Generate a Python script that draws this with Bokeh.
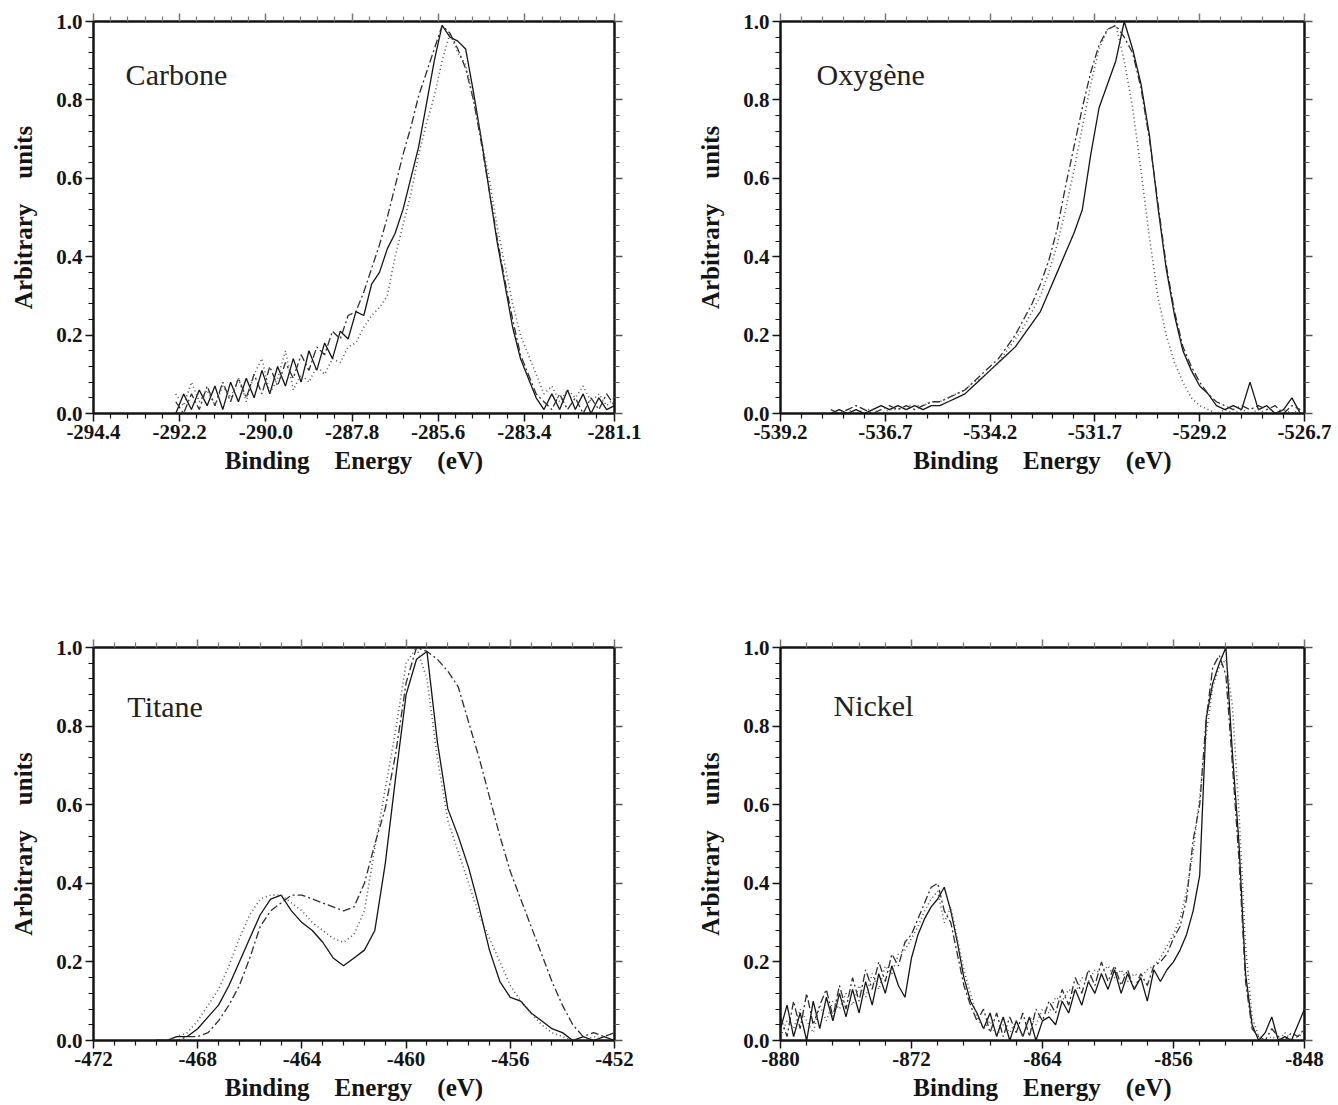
from bokeh.plotting import figure
from bokeh.layouts import column, row
from bokeh.models import (Range1d, FixedTicker, LinearAxis, PrintfTickFormatter, Label,
                          CustomJSTickFormatter)
from bokeh.embed import file_html
from bokeh.resources import INLINE

# ---------------- data ----------------
y_ticks = [0.0, 0.2, 0.4, 0.6, 0.8, 1.0]

carbone_ticks = [-294.4, -292.2, -290.0, -287.8, -285.6, -283.4, -281.1]
carbone_x = [-292.3, -292.1, -291.9, -291.7, -291.5, -291.3, -291.1, -290.9, -290.7, -290.5,
             -290.3, -290.1, -289.9, -289.7, -289.5, -289.3, -289.1, -288.9, -288.7, -288.5,
             -288.3, -288.1, -287.9, -287.7, -287.5, -287.3, -287.1, -286.9, -286.7, -286.5,
             -286.3, -286.1, -285.9, -285.7, -285.5, -285.3, -285.1, -284.9, -284.7, -284.5,
             -284.3, -284.1, -283.9, -283.7, -283.5, -283.3, -283.1, -282.9, -282.7, -282.5,
             -282.3, -282.1, -281.9, -281.7, -281.5, -281.3, -281.1]
carbone_solid = [0.00, 0.05, 0.01, 0.06, 0.02, 0.07, 0.01, 0.08, 0.03, 0.09,
                 0.04, 0.11, 0.05, 0.12, 0.07, 0.14, 0.08, 0.16, 0.11, 0.18,
                 0.14, 0.21, 0.19, 0.26, 0.25, 0.33, 0.36, 0.42, 0.46, 0.52,
                 0.60, 0.68, 0.79, 0.90, 0.99, 0.96, 0.95, 0.93, 0.82, 0.70,
                 0.57, 0.44, 0.33, 0.22, 0.14, 0.09, 0.04, 0.01, 0.05, 0.01,
                 0.06, 0.01, 0.05, 0.00, 0.04, 0.01, 0.02]
carbone_dashdot = [0.03, 0.00, 0.05, 0.01, 0.07, 0.02, 0.08, 0.03, 0.09, 0.04,
                   0.10, 0.05, 0.12, 0.07, 0.13, 0.09, 0.15, 0.11, 0.17, 0.15,
                   0.21, 0.19, 0.25, 0.26, 0.31, 0.37, 0.43, 0.50, 0.58, 0.66,
                   0.73, 0.81, 0.87, 0.93, 0.99, 0.97, 0.93, 0.88, 0.80, 0.69,
                   0.57, 0.45, 0.34, 0.24, 0.15, 0.10, 0.05, 0.03, 0.01, 0.05,
                   0.01, 0.04, 0.00, 0.04, 0.01, 0.05, 0.02]
carbone_dotted = [0.05, 0.02, 0.08, 0.03, 0.06, 0.02, 0.07, 0.04, 0.09, 0.03,
                  0.10, 0.14, 0.05, 0.09, 0.16, 0.06, 0.10, 0.08, 0.12, 0.10,
                  0.14, 0.13, 0.17, 0.18, 0.22, 0.25, 0.27, 0.30, 0.40, 0.48,
                  0.56, 0.66, 0.74, 0.81, 0.90, 0.97, 0.92, 0.89, 0.80, 0.70,
                  0.60, 0.48, 0.38, 0.28, 0.20, 0.15, 0.10, 0.05, 0.07, 0.03,
                  0.06, 0.04, 0.07, 0.03, 0.05, 0.02, 0.04]

oxygene_ticks = [-539.2, -536.7, -534.2, -531.7, -529.2, -526.7]
oxygene_x = [-538.0, -537.8, -537.6, -537.4, -537.2, -537.0, -536.8, -536.6, -536.4, -536.2,
             -536.0, -535.8, -535.6, -535.4, -535.2, -535.0, -534.8, -534.6, -534.4, -534.2,
             -534.0, -533.8, -533.6, -533.4, -533.2, -533.0, -532.8, -532.6, -532.4, -532.2,
             -532.0, -531.8, -531.6, -531.4, -531.2, -531.0, -530.8, -530.6, -530.4, -530.2,
             -530.0, -529.8, -529.6, -529.4, -529.2, -529.0, -528.8, -528.6, -528.4, -528.2,
             -528.0, -527.8, -527.6, -527.4, -527.2, -527.0, -526.8]
oxygene_solid = [0.00, 0.01, 0.00, 0.01, 0.00, 0.01, 0.02, 0.01, 0.02, 0.01,
                 0.02, 0.01, 0.02, 0.02, 0.03, 0.04, 0.05, 0.07, 0.09, 0.11,
                 0.13, 0.15, 0.17, 0.20, 0.23, 0.26, 0.31, 0.36, 0.41, 0.46,
                 0.52, 0.66, 0.78, 0.84, 0.90, 1.00, 0.93, 0.84, 0.71, 0.53,
                 0.37, 0.25, 0.16, 0.11, 0.07, 0.05, 0.02, 0.01, 0.02, 0.01,
                 0.08, 0.01, 0.02, 0.00, 0.01, 0.04, 0.00]
oxygene_dashdot = [0.01, 0.00, 0.01, 0.02, 0.01, 0.00, 0.01, 0.02, 0.01, 0.02,
                   0.01, 0.02, 0.03, 0.03, 0.04, 0.05, 0.06, 0.08, 0.10, 0.12,
                   0.14, 0.17, 0.20, 0.24, 0.28, 0.33, 0.39, 0.47, 0.58, 0.68,
                   0.78, 0.87, 0.94, 0.98, 0.99, 0.96, 0.92, 0.83, 0.70, 0.54,
                   0.38, 0.26, 0.17, 0.12, 0.08, 0.05, 0.03, 0.02, 0.01, 0.02,
                   0.01, 0.02, 0.01, 0.02, 0.00, 0.02, 0.01]
oxygene_dotted = [0.00, 0.00, 0.01, 0.00, 0.01, 0.01, 0.00, 0.01, 0.01, 0.02,
                  0.02, 0.02, 0.03, 0.03, 0.04, 0.05, 0.06, 0.08, 0.09, 0.11,
                  0.13, 0.16, 0.19, 0.22, 0.26, 0.30, 0.36, 0.43, 0.52, 0.62,
                  0.73, 0.84, 0.93, 0.98, 0.99, 0.90, 0.78, 0.62, 0.45, 0.30,
                  0.20, 0.13, 0.08, 0.04, 0.02, 0.01, 0.00, 0.01, 0.00, 0.01,
                  0.00, 0.01, 0.00, 0.00, 0.01, 0.00, 0.01]

titane_ticks = [-472, -468, -464, -460, -456, -452]
titane_x = [-469.6, -469.2, -468.8, -468.4, -468.0, -467.6, -467.2, -466.8, -466.4, -466.0,
            -465.6, -465.2, -464.8, -464.4, -464.0, -463.6, -463.2, -462.8, -462.4, -462.0,
            -461.6, -461.2, -460.8, -460.4, -460.0, -459.6, -459.2, -458.8, -458.4, -458.0,
            -457.6, -457.2, -456.8, -456.4, -456.0, -455.6, -455.2, -454.8, -454.4, -454.0,
            -453.6, -453.2, -452.8, -452.4, -452.0]
titane_solid = [0.00, 0.00, 0.01, 0.01, 0.03, 0.06, 0.09, 0.14, 0.20, 0.26,
                0.32, 0.36, 0.37, 0.33, 0.30, 0.28, 0.25, 0.21, 0.19, 0.21,
                0.23, 0.28, 0.45, 0.67, 0.88, 0.97, 0.99, 0.76, 0.59, 0.52,
                0.44, 0.34, 0.23, 0.15, 0.11, 0.10, 0.07, 0.05, 0.03, 0.02,
                0.00, 0.01, 0.00, 0.01, 0.00]
titane_dashdot = [0.00, 0.00, 0.00, 0.01, 0.01, 0.02, 0.05, 0.09, 0.14, 0.21,
                  0.29, 0.33, 0.35, 0.37, 0.37, 0.36, 0.35, 0.34, 0.33, 0.34,
                  0.40, 0.50, 0.59, 0.73, 0.91, 1.00, 0.99, 0.97, 0.94, 0.90,
                  0.81, 0.72, 0.62, 0.52, 0.43, 0.36, 0.29, 0.22, 0.15, 0.09,
                  0.04, 0.01, 0.02, 0.01, 0.02]
titane_dotted = [0.00, 0.00, 0.01, 0.02, 0.05, 0.09, 0.13, 0.19, 0.26, 0.32,
                 0.36, 0.37, 0.37, 0.35, 0.33, 0.30, 0.28, 0.26, 0.25, 0.27,
                 0.33, 0.49, 0.64, 0.79, 0.96, 1.00, 0.92, 0.72, 0.56, 0.48,
                 0.40, 0.32, 0.26, 0.20, 0.14, 0.10, 0.07, 0.04, 0.02, 0.01,
                 0.00, 0.00, 0.01, 0.00, 0.00]

nickel_ticks = [-880, -872, -864, -856, -848]
nickel_x = [-880.0, -879.6, -879.2, -878.8, -878.4, -878.0, -877.6, -877.2, -876.8, -876.4,
            -876.0, -875.6, -875.2, -874.8, -874.4, -874.0, -873.6, -873.2, -872.8, -872.4,
            -872.0, -871.6, -871.2, -870.8, -870.4, -870.0, -869.6, -869.2, -868.8, -868.4,
            -868.0, -867.6, -867.2, -866.8, -866.4, -866.0, -865.6, -865.2, -864.8, -864.4,
            -864.0, -863.6, -863.2, -862.8, -862.4, -862.0, -861.6, -861.2, -860.8, -860.4,
            -860.0, -859.6, -859.2, -858.8, -858.4, -858.0, -857.6, -857.2, -856.8, -856.4,
            -856.0, -855.6, -855.2, -854.8, -854.4, -854.0, -853.6, -853.2, -852.8, -852.4,
            -852.0, -851.6, -851.2, -850.8, -850.4, -850.0, -849.6, -849.2, -848.8, -848.4,
            -848.0]
nickel_solid = [0.03, 0.09, 0.01, 0.07, 0.00, 0.10, 0.03, 0.11, 0.05, 0.12,
                0.06, 0.13, 0.07, 0.15, 0.09, 0.17, 0.12, 0.19, 0.14, 0.11,
                0.21, 0.27, 0.31, 0.34, 0.36, 0.39, 0.33, 0.25, 0.16, 0.10,
                0.07, 0.03, 0.07, 0.01, 0.06, 0.00, 0.05, 0.01, 0.06, 0.00,
                0.05, 0.06, 0.04, 0.10, 0.07, 0.13, 0.09, 0.15, 0.12, 0.17,
                0.13, 0.18, 0.12, 0.17, 0.13, 0.16, 0.10, 0.18, 0.15, 0.18,
                0.20, 0.23, 0.27, 0.33, 0.42, 0.82, 0.91, 0.96, 1.00, 0.73,
                0.50, 0.17, 0.04, 0.00, 0.02, 0.06, 0.00, 0.01, 0.00, 0.04,
                0.08]
nickel_dashdot = [0.06, 0.01, 0.10, 0.03, 0.12, 0.04, 0.09, 0.13, 0.06, 0.14,
                  0.08, 0.16, 0.10, 0.18, 0.13, 0.20, 0.15, 0.22, 0.19, 0.25,
                  0.27, 0.31, 0.35, 0.39, 0.40, 0.33, 0.30, 0.22, 0.14, 0.09,
                  0.05, 0.08, 0.02, 0.07, 0.01, 0.06, 0.02, 0.07, 0.01, 0.08,
                  0.05, 0.10, 0.07, 0.13, 0.09, 0.16, 0.12, 0.18, 0.14, 0.20,
                  0.15, 0.19, 0.14, 0.18, 0.13, 0.17, 0.14, 0.19, 0.20, 0.22,
                  0.26, 0.29, 0.36, 0.51, 0.60, 0.82, 0.95, 0.98, 0.93, 0.70,
                  0.46, 0.15, 0.03, 0.01, 0.00, 0.03, 0.01, 0.00, 0.02, 0.01,
                  0.03]
nickel_dotted = [0.01, 0.05, 0.03, 0.08, 0.05, 0.02, 0.09, 0.05, 0.10, 0.08,
                 0.12, 0.09, 0.14, 0.11, 0.17, 0.13, 0.19, 0.17, 0.22, 0.23,
                 0.26, 0.29, 0.33, 0.36, 0.38, 0.30, 0.34, 0.26, 0.18, 0.12,
                 0.06, 0.03, 0.05, 0.01, 0.04, 0.02, 0.05, 0.01, 0.06, 0.04,
                 0.08, 0.07, 0.11, 0.10, 0.13, 0.12, 0.16, 0.15, 0.18, 0.17,
                 0.19, 0.16, 0.18, 0.15, 0.17, 0.16, 0.18, 0.19, 0.21, 0.24,
                 0.27, 0.31, 0.38, 0.48, 0.62, 0.78, 0.90, 0.95, 0.97, 0.85,
                 0.58, 0.24, 0.06, 0.01, 0.00, 0.01, 0.00, 0.02, 0.00, 0.01,
                 0.02]

# ---------------- styling helpers ----------------
SERIF = "Liberation Serif"
INK = "#141414"
BLANK = CustomJSTickFormatter(code="return '';")


def minor_positions(majors, n=5):
    out = []
    for a, b in zip(majors[:-1], majors[1:]):
        step = (b - a) / n
        out += [a + step * k for k in range(1, n)]
    return out


def style_axis(ax, majors, fmt, labelled=True, tick_color=INK):
    ax.ticker = FixedTicker(ticks=majors, minor_ticks=minor_positions(majors))
    ax.axis_line_width = 2
    ax.axis_line_color = INK
    ax.major_tick_line_width = 1.5
    ax.major_tick_line_color = tick_color
    ax.minor_tick_line_width = 1.2
    ax.minor_tick_line_color = tick_color
    ax.major_tick_in = 0
    ax.major_tick_out = 8
    ax.minor_tick_in = 0
    ax.minor_tick_out = 5
    if labelled:
        ax.formatter = PrintfTickFormatter(format=fmt)
        ax.major_label_text_font = SERIF
        ax.major_label_text_font_size = "21px"
        ax.major_label_text_font_style = "bold"
        ax.major_label_text_color = INK
        ax.axis_label_text_font = SERIF
        ax.axis_label_text_font_size = "25px"
        ax.axis_label_text_font_style = "bold"
        ax.axis_label_text_color = INK
    else:
        ax.formatter = BLANK
        ax.major_label_standoff = 0
        ax.axis_label = None


def make_panel(name, label_pos, xs, solid, dashdot, dotted, x_ticks, x_fmt,
               frame_w, frame_h, b_left, b_right, b_top, b_bottom):
    p = figure(x_range=Range1d(x_ticks[0], x_ticks[-1]), y_range=Range1d(0.0, 1.0),
               frame_width=frame_w, frame_height=frame_h,
               min_border_left=b_left, min_border_right=b_right,
               min_border_top=b_top, min_border_bottom=b_bottom,
               output_backend="svg", toolbar_location=None,
               background_fill_color="white", border_fill_color="white")
    p.grid.visible = False
    p.outline_line_color = INK
    p.outline_line_width = 2

    style_axis(p.xaxis[0], x_ticks, x_fmt)
    p.xaxis[0].axis_label = "Binding\u2003Energy\u2003(eV)"
    p.xaxis[0].major_label_standoff = 3
    p.xaxis[0].axis_label_standoff = 5

    style_axis(p.yaxis[0], y_ticks, "%.1f")
    p.yaxis[0].axis_label = "Arbitrary\u2003units"
    p.yaxis[0].major_label_standoff = 3
    p.yaxis[0].axis_label_standoff = 16

    top = LinearAxis()
    style_axis(top, x_ticks, x_fmt, labelled=False, tick_color="#777777")
    p.add_layout(top, "above")
    right = LinearAxis()
    style_axis(right, y_ticks, "%.1f", labelled=False, tick_color="#555555")
    p.add_layout(right, "right")

    p.line(xs, solid, line_color=INK, line_width=1.3)
    p.line(xs, dashdot, line_color="#2e2e2e", line_width=1.3, line_dash="8 3 2 3")
    p.line(xs, dotted, line_color="#555555", line_width=1.6, line_dash="1 3")

    p.add_layout(Label(x=label_pos[0], y=label_pos[1], text=name,
                       text_font=SERIF, text_font_size="30px",
                       text_color="#222222", text_baseline="middle", text_align="left"))
    return p


p1 = make_panel("Carbone", (-293.58, 0.865), carbone_x, carbone_solid, carbone_dashdot,
                carbone_dotted, carbone_ticks, "%.1f", 521, 392, 93, 73, 21, 90)
p2 = make_panel("Oxyg\u00e8ne", (-538.34, 0.865), oxygene_x, oxygene_solid, oxygene_dashdot,
                oxygene_dotted, oxygene_ticks, "%.1f", 524, 392, 93, 30, 21, 90)
p3 = make_panel("Titane", (-470.7, 0.85), titane_x, titane_solid, titane_dashdot,
                titane_dotted, titane_ticks, "%d", 521, 393, 93, 73, 144, 60)
p4 = make_panel("Nickel", (-876.76, 0.852), nickel_x, nickel_solid, nickel_dashdot,
                nickel_dotted, nickel_ticks, "%d", 524, 393, 93, 30, 144, 60)

layout = column(row(p1, p2, spacing=0), row(p3, p4, spacing=0), spacing=0)

open("out.html", "w").write(file_html(layout, INLINE))
